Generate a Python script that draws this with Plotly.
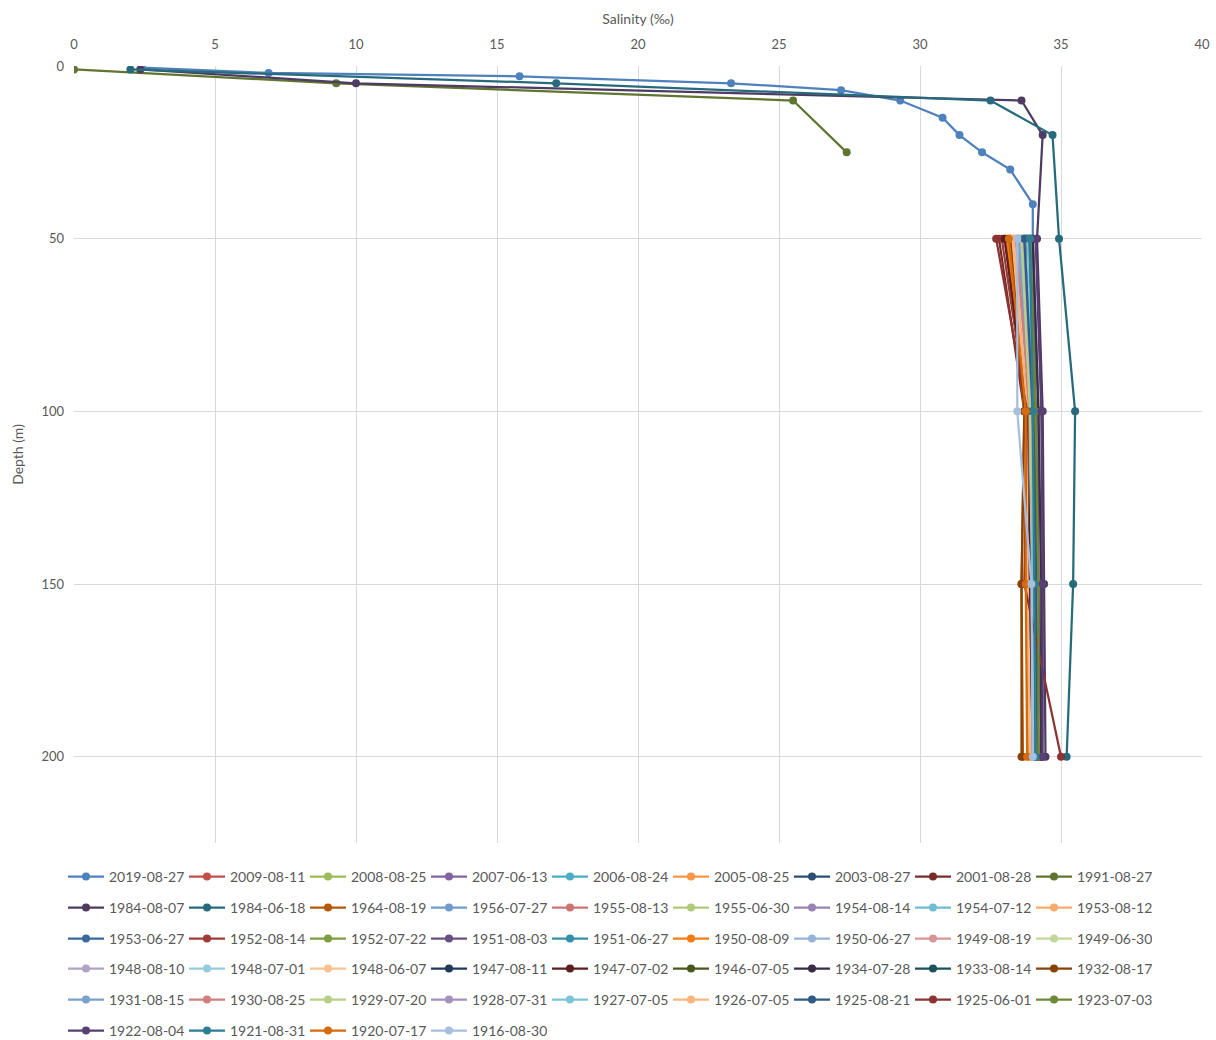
import plotly.graph_objects as go

# Salinity profiles (‰) against depth (m), one series per survey date
dates = [
    "2019-08-27", "2009-08-11", "2008-08-25", "2007-06-13", "2006-08-24", "2005-08-25",
    "2003-08-27", "2001-08-28", "1991-08-27", "1984-08-07", "1984-06-18", "1964-08-19",
    "1956-07-27", "1955-08-13", "1955-06-30", "1954-08-14", "1954-07-12", "1953-08-12",
    "1953-06-27", "1952-08-14", "1952-07-22", "1951-08-03", "1951-06-27", "1950-08-09",
    "1950-06-27", "1949-08-19", "1949-06-30", "1948-08-10", "1948-07-01", "1948-06-07",
    "1947-08-11", "1947-07-02", "1946-07-05", "1934-07-28", "1933-08-14", "1932-08-17",
    "1931-08-15", "1930-08-25", "1929-07-20", "1928-07-31", "1927-07-05", "1926-07-05",
    "1925-08-21", "1925-06-01", "1923-07-03", "1922-08-04", "1921-08-31", "1920-07-17",
    "1916-08-30",
]

colors = [
    "#4F81BD", "#C0504D", "#9BBB59", "#8064A2", "#4BACC6", "#F79646",
    "#2C4D75", "#772C2A", "#5F7530", "#4D3B62", "#276A7C", "#B65708",
    "#729ACA", "#CD7371", "#AFC97A", "#9983B5", "#6FBDD1", "#F9AB6B",
    "#3A679C", "#9E3B39", "#7E9C40", "#664F83", "#338FA8", "#F47C12",
    "#95B3D7", "#D99694", "#C3D69B", "#B3A2C7", "#93CDDD", "#FAC090",
    "#1F3A5A", "#5A1F1E", "#47581F", "#3A2C49", "#1D505E", "#884106",
    "#7BA0CD", "#D17E7C", "#B8CF8A", "#A591BD", "#7CC4D6", "#FAB57E",
    "#335A88", "#8B3432", "#6E8838", "#593F73", "#2D7D93", "#D76A0A",
    "#A6BFDF",
]

# Full profiles (surface to depth)
depth_2019 = [0.5, 2, 3, 5, 7, 10, 15, 20, 25, 30, 40, 50, 100, 150, 200]
sal_2019 = [2.4, 6.9, 15.8, 23.3, 27.2, 29.3, 30.8, 31.4, 32.2, 33.2, 34.0, 34.0, 34.1, 34.1, 34.1]

depth_1991 = [1, 5, 10, 25]
sal_1991 = [0.0, 9.3, 25.5, 27.4]

depth_1984_08 = [1, 5, 10, 20, 50, 100, 150, 200]
sal_1984_08 = [2.35, 10.0, 33.6, 34.35, 34.15, 34.35, 34.4, 34.45]

depth_1984_06 = [1, 5, 10, 20, 50, 100, 150, 200]
sal_1984_06 = [2.0, 17.1, 32.5, 34.7, 34.93, 35.5, 35.43, 35.2]

# Standard-depth stations: 50, 100, 150, 200 m
std_depths = [50, 100, 150, 200]
std_salinity = {
    "2009-08-11": [33.0, 33.9, 34.0, 34.1],
    "2008-08-25": [33.6, 34.0, 34.1, 34.2],
    "2007-06-13": [33.8, 34.1, 34.2, 34.3],
    "2006-08-24": [33.5, 33.9, 34.0, 34.1],
    "2005-08-25": [33.2, 33.8, 33.9, 34.0],
    "2003-08-27": [33.7, 34.0, 34.1, 34.2],
    "2001-08-28": [32.8, 33.7, 33.9, 34.0],
    "1964-08-19": [33.1, 33.7, 33.6, 33.65],
    "1956-07-27": [33.5, 33.9, 34.0, 34.0],
    "1955-08-13": [33.3, 33.8, 33.9, 34.0],
    "1955-06-30": [33.6, 33.9, 34.0, 34.1],
    "1954-08-14": [33.7, 34.0, 34.1, 34.1],
    "1954-07-12": [33.6, 33.9, 34.0, 34.0],
    "1953-08-12": [33.3, 33.8, 33.8, 33.9],
    "1953-06-27": [33.8, 34.0, 34.1, 34.1],
    "1952-08-14": [32.9, 33.8, 33.9, 34.0],
    "1952-07-22": [33.9, 34.1, 34.1, 34.2],
    "1951-08-03": [34.0, 34.2, 34.2, 34.3],
    "1951-06-27": [33.9, 34.0, 34.1, 34.1],
    "1950-08-09": [33.1, 33.75, 33.8, 33.85],
    "1950-06-27": [33.4, 33.9, 34.0, 34.0],
    "1949-08-19": [33.5, 34.0, 34.1, 34.1],
    "1949-06-30": [33.7, 34.0, 34.0, 34.1],
    "1948-08-10": [33.6, 33.9, 34.0, 34.0],
    "1948-07-01": [33.5, 33.9, 33.9, 34.0],
    "1948-06-07": [33.3, 33.7, 33.8, 33.9],
    "1947-08-11": [33.8, 34.0, 34.1, 34.1],
    "1947-07-02": [33.0, 33.8, 33.9, 34.0],
    "1946-07-05": [33.9, 34.1, 34.1, 34.2],
    "1934-07-28": [34.0, 34.2, 34.3, 34.3],
    "1933-08-14": [33.8, 34.0, 34.0, 34.1],
    "1932-08-17": [33.2, 33.7, 33.6, 33.6],
    "1931-08-15": [33.5, 33.9, 34.0, 34.0],
    "1930-08-25": [33.4, 33.9, 34.0, 34.1],
    "1929-07-20": [33.6, 33.9, 34.0, 34.0],
    "1928-07-31": [33.7, 34.0, 34.0, 34.1],
    "1927-07-05": [33.8, 34.0, 34.0, 34.0],
    "1926-07-05": [33.3, 33.8, 33.8, 33.9],
    "1925-08-21": [33.7, 34.0, 34.1, 34.1],
    "1925-06-01": [32.7, 33.8, 33.7, 35.0],
    "1923-07-03": [33.9, 34.1, 34.2, 34.2],
    "1922-08-04": [34.1, 34.3, 34.35, 34.35],
    "1921-08-31": [33.9, 34.0, 34.05, 34.1],
    "1920-07-17": [33.15, 33.75, 33.75, 33.8],
    "1916-08-30": [33.45, 33.45, 33.95, 34.0],
}

full_profiles = {
    "2019-08-27": (sal_2019, depth_2019),
    "1991-08-27": (sal_1991, depth_1991),
    "1984-08-07": (sal_1984_08, depth_1984_08),
    "1984-06-18": (sal_1984_06, depth_1984_06),
}

x_ticks = [0, 5, 10, 15, 20, 25, 30, 35, 40]
y_ticks = [0, 50, 100, 150, 200]

TEXT = "#595959"
GRID = "#D9D9D9"
FONT = "Lato, 'Open Sans', sans-serif"

# Page geometry (pixels)
W, H = 1216, 1040
ML, MR, MT, MB = 74, 14, 66, 197
plot_w = W - ML - MR
plot_h = H - MT - MB

fig = go.Figure()

per_row = 9
legend_rows = [877, 908, 939, 969, 1000, 1031]
item_w = 36          # legend line sample width
entry_pitch = 121    # horizontal distance between legend entries

for i, (name, col) in enumerate(zip(dates, colors)):
    if name in full_profiles:
        xs, ys = full_profiles[name]
    else:
        xs, ys = std_salinity[name], std_depths
    row = i // per_row
    fig.add_trace(go.Scatter(
        x=xs, y=ys, name=name, mode="lines+markers",
        line=dict(color=col, width=2.25),
        marker=dict(color=col, size=8),
        legend="legend" if row == 0 else f"legend{row + 1}",
        hoverinfo="x+y+name",
    ))

# One horizontal legend per row of nine entries
legend_x = (63 - ML) / plot_w
layout_legends = {}
for r, ypix in enumerate(legend_rows):
    key = "legend" if r == 0 else f"legend{r + 1}"
    layout_legends[key] = dict(
        orientation="h",
        x=legend_x, xanchor="left",
        y=(H - MB - ypix) / plot_h, yanchor="middle",
        entrywidth=entry_pitch - (item_w + 10) - 5, entrywidthmode="pixels",
        itemwidth=item_w,
        font=dict(family=FONT, size=14, color=TEXT),
        bgcolor="rgba(0,0,0,0)",
        borderwidth=0,
        itemclick=False, itemdoubleclick=False,
        traceorder="normal",
    )

fig.update_layout(
    width=W, height=H,
    margin=dict(l=ML, r=MR, t=MT, b=MB, autoexpand=False),
    paper_bgcolor="white",
    plot_bgcolor="white",
    font=dict(family=FONT, size=13, color=TEXT),
    showlegend=True,
    xaxis=dict(
        side="top",
        range=[0, 40],
        tickvals=x_ticks,
        ticktext=[str(v) for v in x_ticks],
        showgrid=True, gridcolor=GRID, gridwidth=1,
        zeroline=False,
        showline=False,
        ticks="",
        ticklabelstandoff=13,
        tickfont=dict(family=FONT, size=13, color=TEXT),
        title=dict(text="Salinity (‰)", font=dict(family=FONT, size=14, color=TEXT), standoff=8),
    ),
    yaxis=dict(
        range=[225, 0],
        tickvals=y_ticks,
        ticktext=[str(v) for v in y_ticks],
        showgrid=True, gridcolor=GRID, gridwidth=1,
        zeroline=False,
        showline=False,
        ticks="",
        ticklabelstandoff=9,
        tickfont=dict(family=FONT, size=13, color=TEXT),
        title=dict(text="Depth (m)", font=dict(family=FONT, size=14, color=TEXT), standoff=14),
    ),
    **layout_legends,
)

fig.write_html("out.html")
